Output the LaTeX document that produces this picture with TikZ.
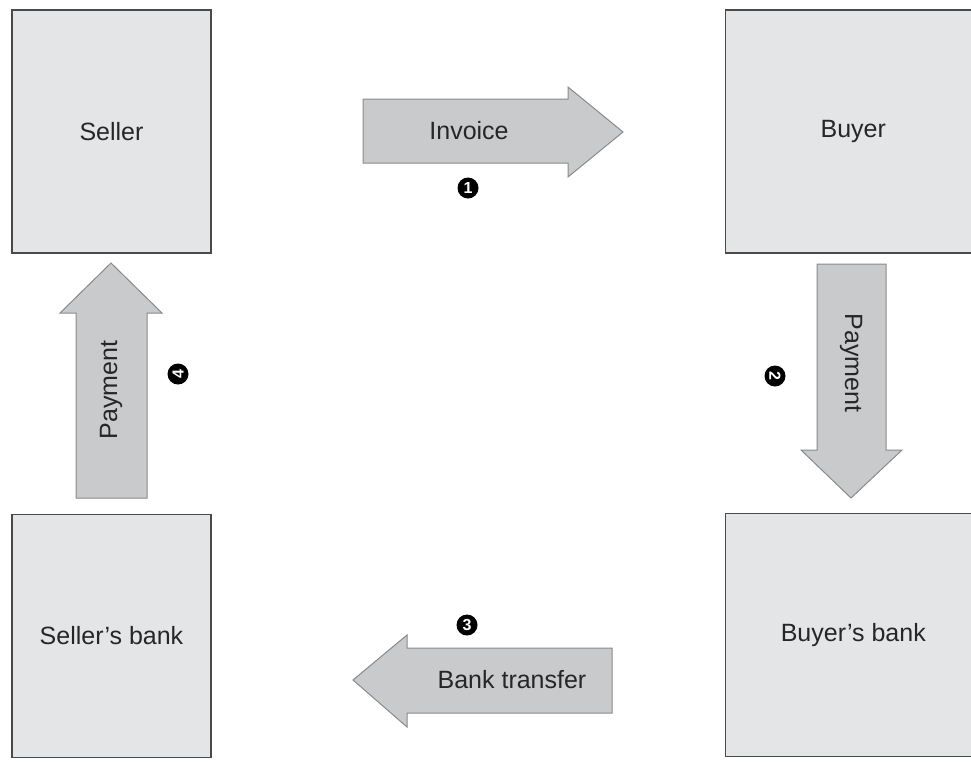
\documentclass[tikz,border=0pt]{standalone}
\usepackage{fontspec}
\setmainfont{Liberation Sans}
\usetikzlibrary{positioning}
\definecolor{boxfill}{HTML}{E4E5E7}
\definecolor{boxline}{HTML}{4A4A4A}
\definecolor{arrowfill}{HTML}{C9CACC}
\definecolor{arrowline}{HTML}{8A8A8A}

\begin{document}
\begin{tikzpicture}[x=1pt, y=-1pt, font=\fontsize{25}{30}\selectfont, text=black!85,
	party/.style={draw=boxline, line width=1.3pt, fill=boxfill, minimum width=199pt, minimum height=243pt, inner sep=0pt},
	blockarrow/.style={draw=arrowline, line width=1pt, fill=arrowfill, line join=miter},
	stepno/.style={circle, fill=black, text=white, inner sep=0pt, minimum size=21pt, font=\fontsize{16}{16}\selectfont\bfseries}]
	\useasboundingbox (0,0) rectangle (971,761);
	\clip (0,0) rectangle (971,761);
	
	\node[party](seller) at (111.5,131.5){Seller};
	\node[party, minimum width=256pt](buyer)[right=513pt of seller]{Buyer};
	\node[party](sbank)[below=260pt of seller]{Seller’s bank};
	\node[party, minimum width=256pt](bbank)[below=259pt of buyer]{Buyer’s bank};
	
	% 1: invoice
	\draw[blockarrow] (363,99) -- (568,99) -- (568,87) -- (623,132) -- (568,177) -- (568,163) -- (363,163) -- cycle;
	\node(invoice) at (469,131){Invoice};
	\node[stepno](n1) at (468,188){1};
	
	% 2: payment to buyer's bank
	\draw[blockarrow] (817,264) -- (886,264) -- (886,450) -- (902,450) -- (851,498) -- (801,450) -- (817,450) -- cycle;
	\node[rotate=-90](pay2) at (851,363){Payment};
	\node[stepno, rotate=-90](n2) at (775,376){2};
	
	% 3: bank transfer
	\draw[blockarrow] (612,648) -- (612,713) -- (407,713) -- (407,727) -- (353,680) -- (407,635) -- (407,648) -- cycle;
	\node(transfer) at (512,680){Bank transfer};
	\node[stepno](n3) at (467,625){3};
	
	% 4: payment to seller
	\draw[blockarrow] (76,498) -- (147,498) -- (147,313) -- (162,313) -- (111,263) -- (60,313) -- (76,313) -- cycle;
	\node[rotate=90](pay4) at (111,390){Payment};
	\node[stepno, rotate=90](n4) at (178,374){4};
\end{tikzpicture}
\end{document}
